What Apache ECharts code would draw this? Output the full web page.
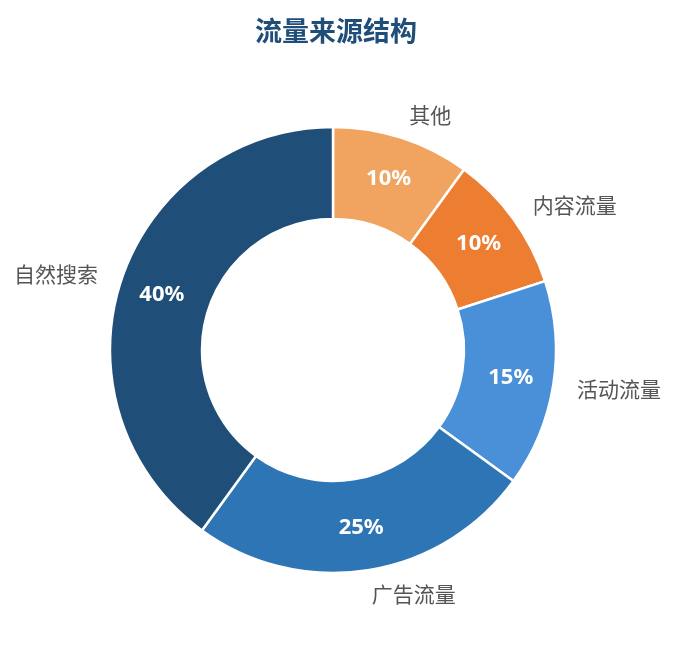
<!DOCTYPE html>
<html>
<head>
<meta charset="utf-8">
<script src="https://cdn.jsdelivr.net/npm/echarts@6/dist/echarts.min.js"></script>
<style>
html,body{margin:0;padding:0;background:#fff;}
#chart{width:675px;height:645px;}
</style>
</head>
<body>
<div id="chart"></div>
<script>
const titleText = '流量来源结构';
const categories = ['其他', '内容流量', '活动流量', '广告流量', '自然搜索'];
const values = [10, 10, 15, 25, 40];
const colors = ['#f0a460', '#ed7d31', '#4a90d9', '#2e75b6', '#1f4e79'];

const data = categories.map((c, i) => ({ name: c, value: values[i], itemStyle: { color: colors[i] } }));
const fontFamily = '"Noto Sans", "Noto Sans CJK SC", sans-serif';
const common = {
  type: 'pie',
  center: [333, 350],
  radius: [131, 223],
  startAngle: 90,
  clockwise: true,
  avoidLabelOverlap: false,
  itemStyle: { borderColor: '#fff', borderWidth: 2.5 },
  emphasis: { disabled: true },
  data: data
};
const chart = echarts.init(document.getElementById('chart'));
chart.setOption({
  animation: false,
  title: {
    text: titleText,
    left: 331,
    top: 12,
    textAlign: 'center',
    textStyle: { fontSize: 27, fontWeight: 'bold', color: '#1f4e79', fontFamily: '"Noto Sans CJK SC", sans-serif' }
  },
  series: [
    Object.assign({}, common, {
      label: {
        show: true,
        position: 'outside',
        formatter: '{b}',
        fontSize: 21,
        color: '#555',
        distanceToLabelLine: 0,
        fontFamily: '"Noto Sans CJK SC", sans-serif'
      },
      labelLine: { show: false, length: 24, length2: 0 }
    }),
    Object.assign({}, common, {
      silent: true,
      label: {
        show: true,
        position: 'inside',
        formatter: '{c}%',
        fontSize: 22,
        fontWeight: 'bold',
        color: '#fff',
        fontFamily: fontFamily
      },
      labelLine: { show: false }
    })
  ]
});
</script>
</body>
</html>
